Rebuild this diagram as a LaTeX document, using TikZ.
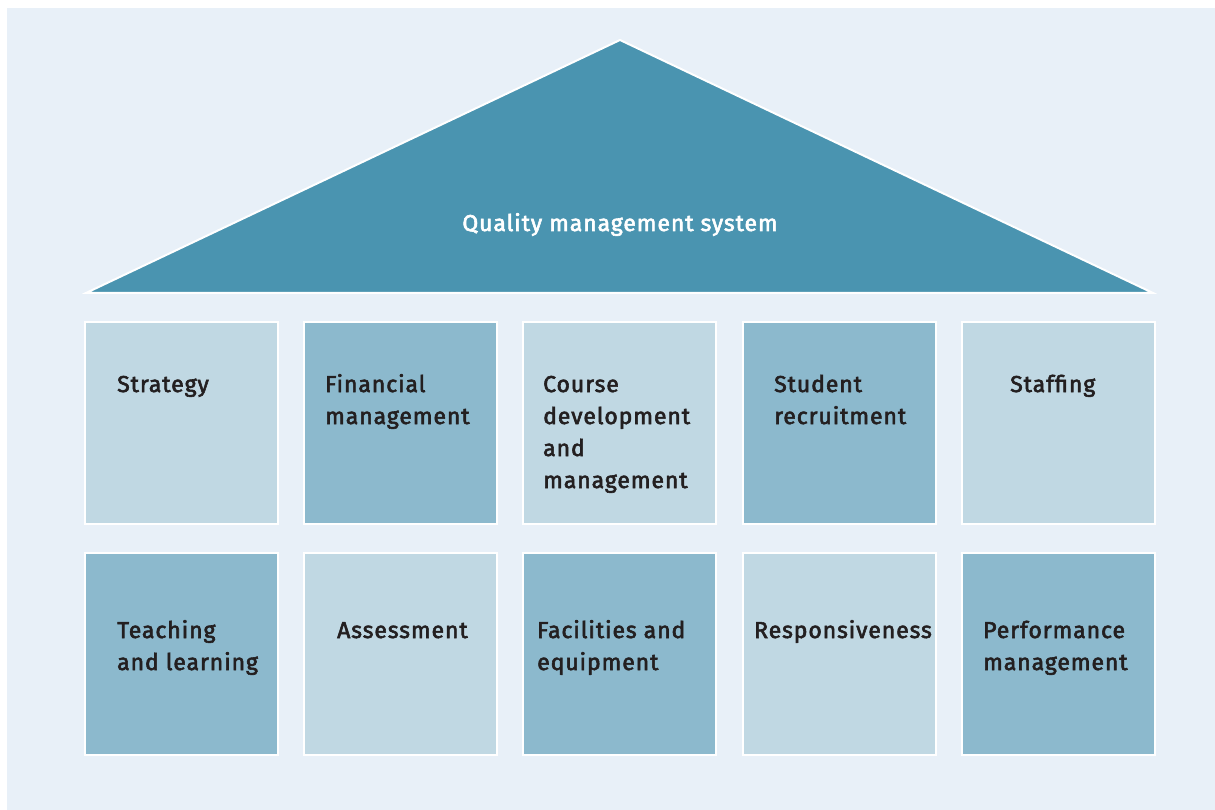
\documentclass[tikz,border=0pt]{standalone}
\usepackage{fontspec}
\setmainfont{Fira Sans}[LetterSpace=4, FakeBold=2.5]
\definecolor{bgblue}{RGB}{232,240,248}
\definecolor{roofblue}{RGB}{74,148,176}
\definecolor{darkbox}{RGB}{140,185,205}
\definecolor{lightbox}{RGB}{192,216,227}
\definecolor{txt}{RGB}{35,31,32}
\tikzset{
  pillar/.style={draw=white, line width=2pt, minimum width=193pt, minimum height=202pt, inner sep=0pt, anchor=north west},
  dpillar/.style={pillar, fill=darkbox},
  lpillar/.style={pillar, fill=lightbox},
  lbl/.style={anchor=base west, align=left, inner sep=0pt, text=txt, font=\fontsize{23}{32}\selectfont},
}
\begin{document}
\begin{tikzpicture}[x=1pt,y=-1pt]
\useasboundingbox (0,0) rectangle (1215,810);
\fill[white] (0,0) rectangle (1215,810);
\fill[bgblue] (7,8) rectangle (1215,810);
% roof
\coordinate (apex) at (620,40);
\coordinate (bl) at (86,293);
\coordinate (br) at (1153,293);
\filldraw[fill=roofblue, draw=white, line width=2pt] (apex) -- (bl) -- (br) -- cycle;
\node[text=white, font=\fontsize{23}{32}\selectfont, anchor=base, inner sep=0pt] (title) at (620,231) {Quality management system};
% row 1
\node[lpillar] (p1) at (84,321) {};
\node[dpillar] (p2) at (303,321) {};
\node[lpillar] (p3) at (522,321) {};
\node[dpillar] (p4) at (742,321) {};
\node[lpillar] (p5) at (961,321) {};
% row 2
\node[dpillar] (q1) at (84,552) {};
\node[lpillar] (q2) at (303,552) {};
\node[dpillar] (q3) at (522,552) {};
\node[lpillar] (q4) at (742,552) {};
\node[dpillar] (q5) at (961,552) {};
% labels row 1 (base anchor = baseline of last line)
\node[lbl] (t1) at (117,392) {Strategy};
\node[lbl] (t2) at (325,424) {Financial\\management};
\node[lbl] (t3) at (543,488) {Course\\development\\and\\management};
\node[lbl] (t4) at (774,424) {Student\\recruitment};
\node[lbl] (t5) at (1010,392) {Staffing};
% labels row 2
\node[lbl] (u1) at (117,670) {Teaching\\and learning};
\node[lbl] (u2) at (337,638) {Assessment};
\node[lbl] (u3) at (537,670) {Facilities and\\equipment};
\node[lbl] (u4) at (754,638) {Responsiveness};
\node[lbl] (u5) at (983,670) {Performance\\management};
\end{tikzpicture}
\end{document}
